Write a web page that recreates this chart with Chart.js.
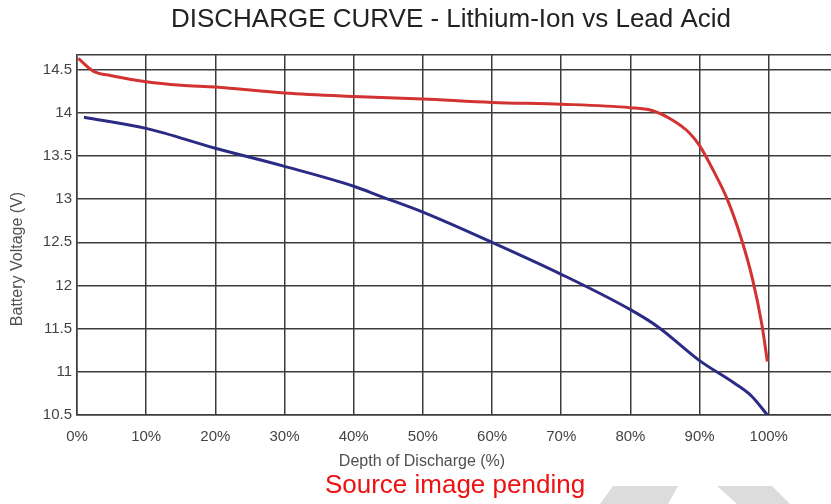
<!DOCTYPE html>
<html>
<head>
<meta charset="utf-8">
<script src="https://cdn.jsdelivr.net/npm/chart.js@4/dist/chart.umd.min.js"></script>
<style>
  html, body { margin: 0; padding: 0; background: #fff; }
  #wrap { position: relative; width: 831px; height: 504px; }
</style>
</head>
<body>
<div id="wrap"><canvas id="discharge" width="831" height="504"></canvas></div>
<script>
// valeurs (profondeur de décharge en %, tension en V)
const liIonDod  = [0.2, 1, 2.4, 5, 10, 15, 20, 30, 40, 50, 60, 70, 80, 83, 86, 88.5, 90, 92, 94, 96, 97.7, 99, 99.8];
const liIonVolt = [14.63, 14.57, 14.48, 14.43, 14.36, 14.32, 14.30, 14.23, 14.19, 14.16, 14.12, 14.10, 14.06, 14.03, 13.92, 13.77, 13.62, 13.33, 13.0, 12.55, 12.06, 11.55, 11.12];

const leadDod  = [1, 10, 20, 30, 40, 44, 50, 60, 70, 80, 84, 90, 95, 97.5, 100];
const leadVolt = [13.95, 13.82, 13.59, 13.38, 13.15, 13.03, 12.85, 12.50, 12.13, 11.72, 11.52, 11.13, 10.87, 10.72, 10.48];

const xTicks = [0, 10, 20, 30, 40, 50, 60, 70, 80, 90, 100];
const yTicks = [10.5, 11, 11.5, 12, 12.5, 13, 13.5, 14, 14.5];

const FONT = '"Liberation Sans", Arial, sans-serif';
const GRID = '#3c3c3c';

function points(xs, ys) {
    return xs.map((x, i) => ({ x: x, y: ys[i] }));
}

// textes et formes décoratives dessinés par-dessus le graphique
const extras = {
    id: 'extras',
    afterDraw(chart) {
        const ctx = chart.ctx;
        ctx.save();

        ctx.fillStyle = '#222';
        ctx.font = '26px ' + FONT;
        ctx.textAlign = 'center';
        ctx.textBaseline = 'middle';
        ctx.fillText('DISCHARGE CURVE - Lithium-Ion vs Lead Acid', 451, 20);

        ctx.fillStyle = '#505050';
        ctx.font = '16px ' + FONT;
        ctx.fillText('Depth of Discharge (%)', 422, 462);

        ctx.save();
        ctx.translate(18, 259);
        ctx.rotate(-Math.PI / 2);
        ctx.fillText('Battery Voltage (V)', 0, 0);
        ctx.restore();

        // filigrane gris en bas à droite
        ctx.fillStyle = '#dcdcdc';
        ctx.beginPath();
        ctx.moveTo(613, 486); ctx.lineTo(678, 486); ctx.lineTo(668, 504); ctx.lineTo(600, 504);
        ctx.closePath(); ctx.fill();
        ctx.beginPath();
        ctx.moveTo(717, 486); ctx.lineTo(772, 486); ctx.lineTo(790, 504); ctx.lineTo(737, 504);
        ctx.closePath(); ctx.fill();

        ctx.fillStyle = '#ee1111';
        ctx.font = '26px ' + FONT;
        ctx.fillText('Source image pending', 455, 486);

        ctx.restore();
    }
};

const ctx = document.getElementById('discharge').getContext('2d');
new Chart(ctx, {
    type: 'line',
    data: {
        datasets: [
            {
                label: 'Lithium-Ion',
                data: points(liIonDod, liIonVolt),
                borderColor: '#d33232',
                borderWidth: 3,
                pointRadius: 0,
                cubicInterpolationMode: 'monotone',
                fill: false
            },
            {
                label: 'Lead Acid',
                data: points(leadDod, leadVolt),
                borderColor: '#2b2b86',
                borderWidth: 3,
                pointRadius: 0,
                cubicInterpolationMode: 'monotone',
                fill: false
            }
        ]
    },
    options: {
        responsive: false,
        animation: false,
        devicePixelRatio: 1,
        layout: { padding: { top: 55, left: 0, right: 0, bottom: 0 } },
        scales: {
            x: {
                type: 'linear',
                min: 0,
                max: 109,
                afterFit: (scale) => { scale.height = 89; },
                afterBuildTicks: (scale) => {
                    scale.ticks = xTicks.map(v => ({ value: v }));
                },
                grid: { color: GRID, lineWidth: 1.5, drawTicks: false },
                border: { color: GRID, width: 1.5 },
                ticks: {
                    padding: 13,
                    color: '#444',
                    font: { family: FONT, size: 15 },
                    maxRotation: 0,
                    callback: (value) => value + '%'
                }
            },
            y: {
                min: 10.5,
                max: 14.67,
                afterFit: (scale) => { scale.width = 77; },
                afterBuildTicks: (scale) => {
                    scale.ticks = yTicks.map(v => ({ value: v })).concat([{ value: 14.67 }]);
                },
                grid: { color: GRID, lineWidth: 1.5, drawTicks: false },
                border: { color: GRID, width: 1.5 },
                ticks: {
                    padding: 5,
                    color: '#444',
                    font: { family: FONT, size: 15 },
                    callback: (value) => yTicks.includes(value) ? String(value) : ''
                }
            }
        },
        plugins: {
            legend: { display: false },
            title: { display: false },
            tooltip: { enabled: false }
        }
    },
    plugins: [extras]
});
</script>
</body>
</html>
